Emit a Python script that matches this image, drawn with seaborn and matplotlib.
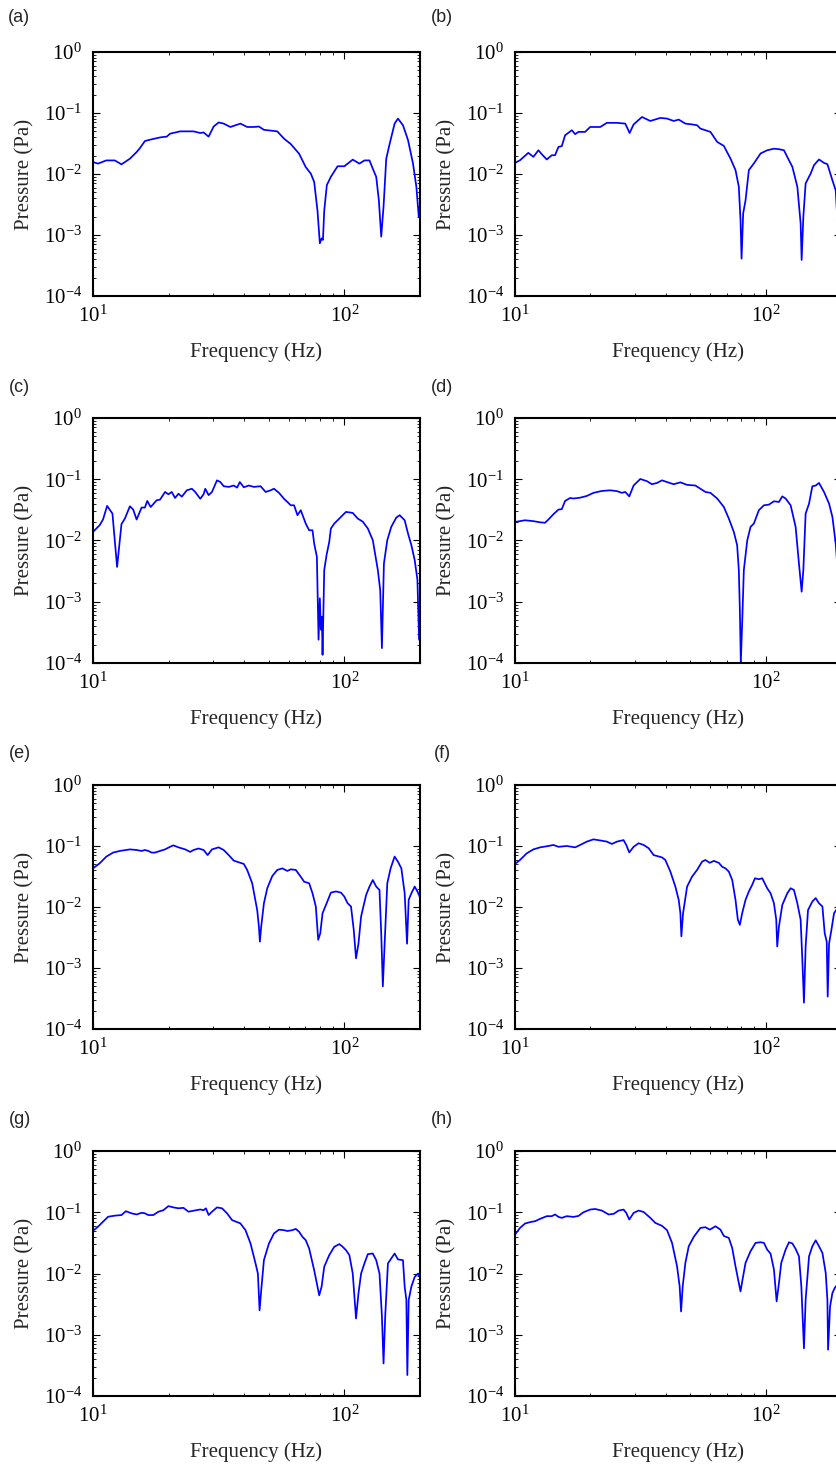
import numpy as np
import pandas as pd
import matplotlib
matplotlib.use("Agg")
import matplotlib.pyplot as plt
import seaborn as sns
from matplotlib.ticker import LogLocator, NullFormatter

# ---------------- data ----------------
freq_a = [10.0, 10.47, 11.3, 12.21, 12.98, 14.02, 14.91, 15.37, 16.09, 16.86, 18.48, 19.65, 20.26, 22.22, 25.12,
          26.71, 27.54, 28.84, 30.2, 31.62, 33.11, 35.2, 38.6, 41.06, 43.65, 45.71, 47.86, 54.1, 57.54, 61.2,
          66.07, 70.2, 73.6, 75.86, 78.2, 79.9, 81.2, 82.2, 83.18, 85.2, 88.4, 94.0, 100, 108.0, 114.8, 120.2,
          125.9, 129.8, 133.9, 137.2, 140.2, 143.2, 146.8, 151.4, 158.5, 163.4, 171.1, 179.2, 187.6, 193.5,
          197.7, 201]
pres_a = [0.0157, 0.0148, 0.0167, 0.0167, 0.0144, 0.0178, 0.0229, 0.0266, 0.0347, 0.0365, 0.0398, 0.041, 0.0458,
          0.050, 0.050, 0.047, 0.048, 0.041, 0.060, 0.070, 0.067, 0.059, 0.067, 0.059, 0.059, 0.060, 0.053, 0.050,
          0.038, 0.031, 0.0215, 0.0130, 0.0101, 0.0074, 0.0025, 0.00073, 0.00088, 0.00083, 0.0025, 0.0066, 0.0090,
          0.0134, 0.0134, 0.0172, 0.0148, 0.0167, 0.0167, 0.0122, 0.0090, 0.0037, 0.00094, 0.0029, 0.0178, 0.031,
          0.067, 0.081, 0.063, 0.036, 0.0148, 0.0061, 0.0020, 0.0037]

freq_b = [10.0, 10.47, 11.30, 11.84, 12.40, 12.79, 13.39, 14.02, 14.45, 14.91, 15.37, 15.85, 16.86, 17.38, 17.92,
          19.05, 19.95, 21.88, 23.27, 25.51, 27.54, 28.14, 28.67, 29.74, 32.12, 34.67, 38.02, 40.43, 42.99, 45.01,
          47.86, 50.89, 53.29, 54.95, 60.26, 64.09, 68.13, 72.44, 75.86, 78.2, 79.43, 80.2, 81.4, 83.18, 85.77,
          89.8, 95.5, 101.5, 108.0, 113.1, 118.4, 124.0, 127.9, 133.9, 138.0, 139.3, 141.5, 144.5, 151.4, 156.1,
          163.4, 171.1, 176.5, 184.8, 190.5, 193.5, 200]
pres_b = [0.0152, 0.0168, 0.0222, 0.0191, 0.0245, 0.0211, 0.0173, 0.0203, 0.0203, 0.0278, 0.0286, 0.0432, 0.0522,
          0.0450, 0.049, 0.049, 0.059, 0.059, 0.069, 0.069, 0.067, 0.0555, 0.047, 0.065, 0.086, 0.074, 0.083, 0.081,
          0.074, 0.078, 0.067, 0.065, 0.063, 0.0555, 0.049, 0.0336, 0.0289, 0.0179, 0.0116, 0.0062, 0.00175,
          0.00041, 0.00226, 0.0037, 0.0116, 0.0149, 0.0217, 0.0245, 0.026, 0.0255, 0.0245, 0.0168, 0.0131, 0.0062,
          0.00155, 0.00039, 0.0020, 0.0070, 0.0102, 0.014, 0.0173, 0.0152, 0.0145, 0.0079, 0.0054, 0.00175, 0.0012]

freq_c = [10.0, 10.63, 10.96, 11.38, 11.95, 12.47, 12.98, 13.39, 14.02, 14.45, 14.91, 15.61, 16.09, 16.44, 16.96,
          17.92, 18.48, 19.35, 19.95, 20.57, 21.21, 21.88, 22.56, 23.62, 24.74, 25.51, 26.71, 27.54, 27.97, 28.84,
          29.74, 31.14, 32.12, 33.11, 34.67, 36.31, 37.44, 38.37, 39.81, 41.69, 43.65, 46.42, 48.62, 50.89, 52.48,
          54.95, 57.54, 59.34, 61.2, 63.1, 65.07, 67.09, 70.2, 72.44, 74.70, 75.86, 77.76, 78.96, 79.9, 80.66,
          81.4, 81.9, 83.18, 84.97, 87.10, 88.4, 91.2, 94.0, 96.97, 101.5, 108.0, 113.1, 118.4, 124.0, 129.8,
          135.9, 138.9, 141.1, 143.7, 148.2, 153.7, 161.0, 166.0, 173.8, 179.2, 184.8, 190.5, 195.3, 198.3, 201]
pres_c = [0.0138, 0.0178, 0.022, 0.0367, 0.0275, 0.0037, 0.0185, 0.0228, 0.0362, 0.032, 0.022, 0.0345, 0.0345,
          0.0443, 0.0352, 0.0454, 0.0465, 0.062, 0.0568, 0.062, 0.0495, 0.058, 0.052, 0.066, 0.070, 0.062, 0.048,
          0.0568, 0.070, 0.055, 0.062, 0.096, 0.090, 0.077, 0.075, 0.079, 0.073, 0.090, 0.074, 0.079, 0.075, 0.077,
          0.062, 0.066, 0.070, 0.060, 0.048, 0.0426, 0.0376, 0.0376, 0.0259, 0.0312, 0.0189, 0.0147, 0.0147,
          0.0089, 0.0054, 0.00024, 0.00114, 0.00035, 0.00057, 0.000136, 0.0033, 0.0058, 0.0095, 0.0157, 0.0189,
          0.0214, 0.0243, 0.0293, 0.0282, 0.0228, 0.0203, 0.0157, 0.0101, 0.0033, 0.00155, 0.000175, 0.0042,
          0.0101, 0.0167, 0.0237, 0.0259, 0.0214, 0.013, 0.0084, 0.0048, 0.0023, 0.00024, 0.00125]

freq_d = [10.0, 10.47, 10.96, 11.84, 12.59, 13.18, 13.59, 14.23, 14.91, 15.37, 15.85, 16.60, 17.11, 18.20, 19.35,
          20.57, 22.22, 23.99, 25.51, 26.71, 27.54, 27.97, 28.58, 29.74, 31.62, 33.63, 35.2, 36.87, 38.6, 40.43,
          42.99, 45.71, 48.62, 52.48, 54.95, 57.54, 60.26, 64.09, 68.13, 71.35, 74.70, 77.0, 78.2, 78.96, 79.65,
          80.66, 81.9, 84.5, 87.1, 89.8, 94.0, 98.5, 103.1, 108.0, 113.1, 116.6, 120.2, 125.9, 131.8, 135.9,
          139.3, 141.5, 144.5, 149.1, 153.7, 158.5, 163.4, 171.1, 179.2, 184.8, 190.5, 193.5, 200]
pres_d = [0.0201, 0.0207, 0.0214, 0.0207, 0.0198, 0.0195, 0.022, 0.0268, 0.032, 0.0325, 0.0443, 0.0495, 0.0485,
          0.050, 0.0534, 0.060, 0.0644, 0.066, 0.064, 0.060, 0.062, 0.058, 0.0525, 0.079, 0.101, 0.093, 0.083,
          0.087, 0.096, 0.090, 0.083, 0.089, 0.081, 0.079, 0.070, 0.062, 0.060, 0.0485, 0.0353, 0.0228, 0.0138,
          0.0084, 0.0033, 0.00073, 0.0001, 0.00045, 0.0033, 0.010, 0.0167, 0.0189, 0.0312, 0.0376, 0.0385, 0.0437,
          0.0426, 0.0525, 0.0485, 0.0376, 0.0167, 0.0042, 0.00146, 0.0033, 0.0275, 0.040, 0.0767, 0.079, 0.087,
          0.062, 0.040, 0.0243, 0.0089, 0.0037, 0.002]

freq_e = [10.0, 10.63, 11.30, 12.02, 12.79, 14.02, 14.91, 15.61, 16.09, 16.60, 17.11, 17.65, 18.48, 19.35, 20.26,
          20.89, 21.88, 23.27, 24.36, 25.12, 26.30, 27.54, 28.58, 29.74, 31.62, 33.11, 34.67, 36.31, 39.81, 41.06,
          42.99, 45.01, 45.71, 46.13, 46.7, 47.86, 49.36, 51.68, 54.1, 56.66, 59.34, 61.2, 64.09, 67.09, 69.18,
          72.44, 74.70, 77.0, 78.7, 80.2, 81.9, 84.5, 88.4, 92.6, 96.97, 100, 103.1, 106.3, 109.0, 111.3, 113.8,
          116.6, 122.1, 125.9, 129.8, 133.9, 138.0, 140.2, 142.3, 144.5, 148.2, 152.8, 158.5, 163.4, 168.6, 173.8,
          177.6, 180.3, 184.8, 190.5, 195.3, 199.5]
pres_e = [0.043, 0.052, 0.067, 0.078, 0.083, 0.088, 0.086, 0.083, 0.086, 0.083, 0.078, 0.078, 0.083, 0.088, 0.097,
          0.1025, 0.095, 0.088, 0.080, 0.086, 0.091, 0.086, 0.071, 0.088, 0.095, 0.086, 0.071, 0.0575, 0.0508,
          0.0405, 0.0245, 0.0089, 0.0048, 0.0027, 0.0048, 0.0115, 0.0203, 0.0322, 0.0405, 0.043, 0.039, 0.0415,
          0.0405, 0.0313, 0.026, 0.0245, 0.0168, 0.0102, 0.0029, 0.0037, 0.0079, 0.0108, 0.0172, 0.018, 0.0172,
          0.0148, 0.0115, 0.0102, 0.0042, 0.00144, 0.0025, 0.0070, 0.0158, 0.0216, 0.0277, 0.0216, 0.019, 0.0037,
          0.0005, 0.00225, 0.0245, 0.043, 0.067, 0.0554, 0.043, 0.0168, 0.0025, 0.0131, 0.0168, 0.0216, 0.018,
          0.0148]

freq_f = [10.0, 10.47, 11.13, 11.84, 12.59, 13.59, 14.23, 14.91, 16.09, 17.38, 18.20, 19.35, 20.57, 22.22, 23.27,
          24.36, 25.51, 27.12, 27.8, 28.58, 29.74, 31.14, 32.61, 34.15, 35.75, 38.6, 39.81, 41.69, 43.65, 45.01,
          45.71, 46.13, 46.85, 48.62, 50.89, 53.29, 55.8, 57.54, 59.9, 62.13, 65.07, 67.09, 69.18, 71.35, 73.6,
          75.86, 77.5, 78.96, 80.66, 83.18, 85.77, 88.4, 90.7, 94.0, 96.97, 101.5, 104.7, 108.0, 110.3, 111.3,
          113.1, 116.6, 122.1, 125.9, 129.8, 133.9, 138.0, 140.2, 142.3, 144.5, 147.7, 153.7, 158.5, 163.4, 168.6,
          172.2, 175.4, 177.0, 179.2, 183.1, 187.6, 193.5, 200]
pres_f = [0.0508, 0.059, 0.0757, 0.088, 0.095, 0.1, 0.104, 0.097, 0.1, 0.095, 0.104, 0.118, 0.1285, 0.122, 0.118,
          0.108, 0.118, 0.125, 0.104, 0.0785, 0.097, 0.111, 0.104, 0.092, 0.071, 0.065, 0.059, 0.038, 0.0216,
          0.0131, 0.0079, 0.0033, 0.0079, 0.0216, 0.0315, 0.0405, 0.0554, 0.059, 0.053, 0.057, 0.053, 0.0457,
          0.043, 0.038, 0.0277, 0.0131, 0.0062, 0.0051, 0.0079, 0.0131, 0.018, 0.023, 0.0296, 0.0285, 0.0296,
          0.0203, 0.0168, 0.0115, 0.0062, 0.00225, 0.0048, 0.0108, 0.0168, 0.0203, 0.019, 0.0115, 0.0062, 0.00136,
          0.00027, 0.00225, 0.0089, 0.0123, 0.014, 0.0115, 0.0102, 0.0037, 0.0027, 0.00034, 0.0025, 0.0042, 0.0079,
          0.0095, 0.011]

freq_g = [10.0, 10.47, 10.96, 11.48, 12.21, 12.98, 13.51, 14.23, 14.91, 15.61, 16.09, 16.60, 17.38, 18.20, 19.05,
          19.95, 20.89, 21.88, 22.91, 23.99, 25.12, 26.71, 27.54, 28.14, 28.84, 29.74, 31.14, 32.61, 34.15, 35.75,
          38.6, 40.43, 42.34, 44.33, 45.29, 46.0, 46.7, 47.86, 50.12, 52.48, 54.95, 57.54, 59.34, 62.13, 64.09,
          66.07, 68.13, 70.2, 72.44, 75.86, 78.2, 79.43, 81.2, 83.18, 87.10, 91.2, 95.5, 98.5, 101.5, 104.7, 108.0,
          111.3, 113.8, 116.6, 120.2, 124.0, 129.8, 133.9, 138.0, 141.1, 143.2, 145.4, 149.1, 153.7, 158.5, 163.4,
          171.1, 173.8, 176.5, 178.1, 180.3, 184.8, 190.5, 196.5, 201]
pres_g = [0.0498, 0.058, 0.070, 0.0844, 0.088, 0.090, 0.104, 0.096, 0.092, 0.098, 0.096, 0.090, 0.090, 0.102,
          0.108, 0.126, 0.120, 0.116, 0.118, 0.102, 0.106, 0.111, 0.108, 0.116, 0.090, 0.102, 0.120, 0.116, 0.096,
          0.0744, 0.0657, 0.051, 0.0309, 0.0146, 0.010, 0.0025, 0.0053, 0.0165, 0.0309, 0.0451, 0.052, 0.051,
          0.0494, 0.051, 0.0535, 0.048, 0.0397, 0.035, 0.0256, 0.0113, 0.0061, 0.0044, 0.0061, 0.0129, 0.020,
          0.0273, 0.0302, 0.0273, 0.0241, 0.020, 0.010, 0.00184, 0.0047, 0.010, 0.0146, 0.0207, 0.0212, 0.0165,
          0.010, 0.0020, 0.00034, 0.0020, 0.0146, 0.0176, 0.0212, 0.017, 0.0165, 0.0061, 0.0037, 0.00022, 0.0037,
          0.0061, 0.0088, 0.010, 0.0083]

freq_h = [10.0, 10.47, 10.96, 11.48, 12.02, 12.59, 13.39, 14.02, 14.45, 14.91, 15.37, 16.09, 17.11, 17.92, 18.76,
          19.95, 20.89, 22.22, 23.62, 24.74, 25.91, 27.12, 27.8, 28.58, 29.74, 31.14, 32.61, 34.67, 36.31, 38.6,
          40.43, 42.34, 44.33, 45.4, 46.0, 46.7, 47.86, 49.36, 51.68, 54.95, 57.54, 59.9, 63.1, 66.07, 68.13,
          71.35, 73.6, 75.86, 78.2, 79.43, 80.9, 83.18, 87.1, 91.2, 95.5, 98.5, 101.5, 104.7, 108.0, 110.7, 113.1,
          115.5, 120.2, 124.0, 127.9, 131.8, 135.9, 138.9, 142.3, 144.5, 149.1, 153.7, 158.5, 163.4, 168.6, 173.8,
          176.5, 177.6, 180.9, 184.8, 188.8, 193.5, 200]
pres_h = [0.0432, 0.0555, 0.0654, 0.069, 0.0714, 0.078, 0.0863, 0.0863, 0.092, 0.084, 0.081, 0.0863, 0.084, 0.087,
          0.1, 0.1106, 0.113, 0.1065, 0.092, 0.094, 0.1065, 0.1106, 0.0975, 0.076, 0.0975, 0.1065, 0.101, 0.081,
          0.067, 0.060, 0.051, 0.0316, 0.0131, 0.0062, 0.0024, 0.0062, 0.0149, 0.0278, 0.0396, 0.0555, 0.057,
          0.052, 0.059, 0.052, 0.041, 0.0381, 0.026, 0.0131, 0.0070, 0.0051, 0.0079, 0.0149, 0.0231, 0.0316,
          0.0324, 0.0316, 0.0245, 0.0211, 0.0116, 0.0035, 0.0070, 0.0149, 0.0245, 0.0324, 0.031, 0.0252, 0.0191,
          0.0062, 0.0006, 0.0037, 0.0191, 0.0278, 0.0348, 0.0278, 0.0217, 0.0102, 0.0037, 0.00057, 0.0029, 0.0048,
          0.0058, 0.0066, 0.007]

panel_labels = ["(a)", "(b)", "(c)", "(d)", "(e)", "(f)", "(g)", "(h)"]
panel_freqs = [freq_a, freq_b, freq_c, freq_d, freq_e, freq_f, freq_g, freq_h]
panel_pres = [pres_a, pres_b, pres_c, pres_d, pres_e, pres_f, pres_g, pres_h]
y_ticks = [1e-4, 1e-3, 1e-2, 1e-1, 1e0]
x_ticks = [10, 100]
x_label = "Frequency (Hz)"
y_label = "Pressure (Pa)"

# ---------------- style ----------------
sns.set_theme(style="ticks")
plt.rcParams["font.family"] = ["Liberation Serif", "DejaVu Serif"]
plt.rcParams["mathtext.fontset"] = "custom"
plt.rcParams["mathtext.rm"] = "Liberation Serif"
plt.rcParams["mathtext.it"] = "Liberation Serif:italic"
plt.rcParams["mathtext.bf"] = "Liberation Serif:bold"
plt.rcParams["axes.unicode_minus"] = False

W, H = 837, 1465
fig = plt.figure(figsize=(W / 100, H / 100), dpi=100)
fig.patch.set_facecolor("white")

col_left_px = [93, 515]
col_width_px = [327, 326]
rows_px = [(52, 296), (418, 663), (785, 1029), (1151, 1396)]
label_pos_px = [(8, 18), (431, 18), (9, 387), (431, 387), (9, 753), (434, 753), (9, 1120), (431, 1120)]

for i in range(8):
    r, c = divmod(i, 2)
    top, bot = rows_px[r]
    ax = fig.add_axes([col_left_px[c] / W, 1 - bot / H, col_width_px[c] / W, (bot - top) / H])
    ax.set_xscale("log")
    ax.set_yscale("log")
    df = pd.DataFrame({"Frequency": panel_freqs[i], "Pressure": panel_pres[i]})
    sns.lineplot(data=df, x="Frequency", y="Pressure", ax=ax, color="#0000FF",
                 linewidth=1.25, estimator=None, sort=False, legend=False)
    ax.set_xlim(10, 200)
    ax.set_ylim(1e-4, 1)
    ax.set_xticks(x_ticks)
    ax.set_yticks(y_ticks)
    ax.xaxis.set_minor_locator(LogLocator(base=10, subs=np.arange(2, 10)))
    ax.yaxis.set_minor_locator(LogLocator(base=10, subs=np.arange(2, 10)))
    ax.xaxis.set_minor_formatter(NullFormatter())
    ax.yaxis.set_minor_formatter(NullFormatter())
    ax.tick_params(which="both", direction="in", top=True, right=True, colors="black")
    ax.tick_params(which="major", length=5, width=0.8, labelsize=15)
    ax.tick_params(which="minor", length=2.5, width=0.6)
    ax.tick_params(axis="y", which="major", pad=8)
    ax.tick_params(axis="x", which="major", pad=7)
    for sp in ax.spines.values():
        sp.set_linewidth(1.5)
        sp.set_color("black")
        sp.set_visible(True)
    ax.set_xlabel(x_label, fontsize=15)
    ax.set_ylabel(y_label, fontsize=15)
    ax.xaxis.set_label_coords(0.5, -0.19)
    ax.yaxis.set_label_coords(-0.18, 0.5)
    ax.grid(False)
    ax.set_facecolor("white")
    lx, ly = label_pos_px[i]
    fig.text(lx / W, 1 - ly / H, panel_labels[i], fontsize=13,
             family=["Liberation Sans", "DejaVu Sans"], va="center", ha="left")

fig.savefig("out.png", dpi=100, facecolor="white")
